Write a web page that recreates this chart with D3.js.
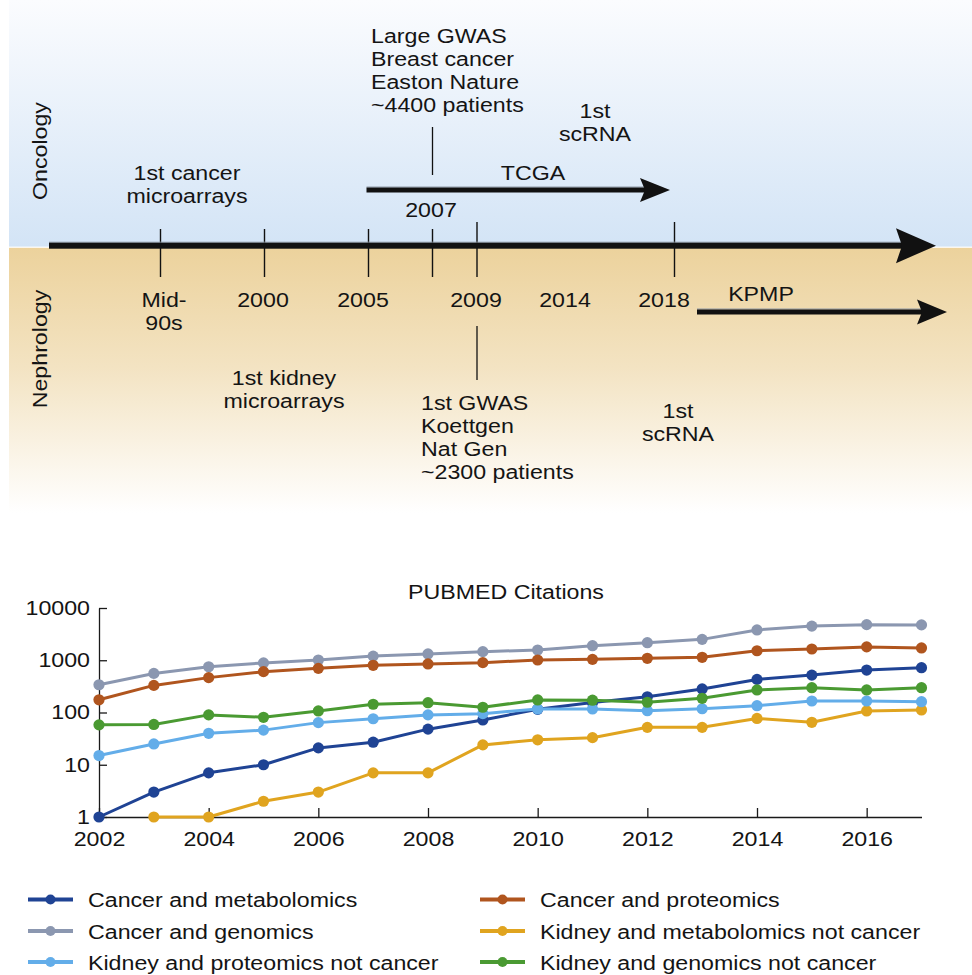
<!DOCTYPE html>
<html>
<head>
<meta charset="utf-8">
<script src="https://cdn.jsdelivr.net/npm/d3@7/dist/d3.min.js"></script>
<style>
  html, body { margin: 0; padding: 0; background: #fff; }
  svg { display: block; }
  text { font-family: "Liberation Sans", Arial, Helvetica, sans-serif; font-size: 20px; fill: #141414; }
</style>
</head>
<body>
<svg id="fig" width="972" height="975"></svg>
<script>
// ---------- Timeline content ----------
const milestoneYears = [1995, 2000, 2005, 2007, 2009, 2018];
const yearLabels = [
  { year: 1995, lines: ["Mid-", "90s"] },
  { year: 2000, lines: ["2000"] },
  { year: 2005, lines: ["2005"] },
  { year: 2009, lines: ["2009"] },
  { year: 2014, lines: ["2014"] },
  { year: 2018, lines: ["2018"] }
];
const oncologyNotes = [
  { key: "microarrays", lines: ["1st cancer", "microarrays"] },
  { key: "gwas", lines: ["Large GWAS", "Breast cancer", "Easton Nature", "~4400 patients"] },
  { key: "scrna", lines: ["1st", "scRNA"] },
  { key: "tcga", lines: ["TCGA"] },
  { key: "year2007", lines: ["2007"] }
];
const nephrologyNotes = [
  { key: "microarrays", lines: ["1st kidney", "microarrays"] },
  { key: "gwas", lines: ["1st GWAS", "Koettgen", "Nat Gen", "~2300 patients"] },
  { key: "scrna", lines: ["1st", "scRNA"] },
  { key: "kpmp", lines: ["KPMP"] }
];

// ---------- PubMed citation counts ----------
const years = [2002, 2003, 2004, 2005, 2006, 2007, 2008, 2009, 2010, 2011, 2012, 2013, 2014, 2015, 2016, 2017];
const cancerMetabolomics = [1, 3, 7, 10, 21, 27, 48, 72, 115, 155, 200, 282, 430, 520, 650, 720];
const cancerGenomics     = [340, 560, 750, 890, 1010, 1200, 1320, 1460, 1570, 1900, 2170, 2510, 3800, 4500, 4800, 4750];
const cancerProteomics   = [175, 330, 465, 605, 700, 800, 850, 900, 1010, 1040, 1090, 1140, 1520, 1640, 1800, 1720];
const kidneyMetabolomics = [null, 1, 1, 2, 3, 7, 7, 24, 30, 33, 52, 52, 77, 65, 107, 112];
const kidneyProteomics   = [15, 25, 40, 46, 64, 76, 90, 95, 117, 117, 108, 118, 135, 166, 166, 161];
const kidneyGenomics     = [58, 59, 90, 81, 107, 144, 154, 126, 174, 172, 157, 187, 270, 298, 270, 298];
const yTicks = [1, 10, 100, 1000, 10000];
const xTicks = [2002, 2004, 2006, 2008, 2010, 2012, 2014, 2016];

const series = [
  { name: "Cancer and metabolomics", values: cancerMetabolomics, color: "#1f4394", legend: [0, 0] },
  { name: "Cancer and genomics", values: cancerGenomics, color: "#8b97b0", legend: [0, 1] },
  { name: "Cancer and proteomics", values: cancerProteomics, color: "#b0551e", legend: [1, 0] },
  { name: "Kidney and metabolomics not cancer", values: kidneyMetabolomics, color: "#e0a41f", legend: [1, 1] },
  { name: "Kidney and proteomics not cancer", values: kidneyProteomics, color: "#63ade9", legend: [0, 2] },
  { name: "Kidney and genomics not cancer", values: kidneyGenomics, color: "#4a9a32", legend: [1, 2] }
];

// ---------- helpers ----------
const SX = 1.16;        // wide Helvetica-like setting
const LH = 23;          // line height of stacked labels
const svg = d3.select("#fig");

function label(g, x, y, lines, anchor = "start", rotate = 0) {
  const t = g.append("text")
    .attr("transform", `translate(${x},${y}) rotate(${rotate}) scale(${SX},1)`)
    .attr("text-anchor", anchor);
  lines.forEach((s, i) => t.append("tspan").attr("x", 0).attr("y", i * LH).text(s));
  return t;
}

function arrow(g, x0, x1, y, thick, headLen, headHalf, notch) {
  g.append("rect").attr("x", x0).attr("y", y - thick / 2 - 1).attr("width", x1 - headLen + notch - x0)
    .attr("height", 1).attr("fill", "#8e98a3");
  g.append("rect").attr("x", x0).attr("y", y - thick / 2).attr("width", x1 - headLen + notch + 1 - x0)
    .attr("height", thick).attr("fill", "#111");
  g.append("path")
    .attr("d", `M${x1},${y} L${x1 - headLen},${y - headHalf} L${x1 - headLen + notch},${y} L${x1 - headLen},${y + headHalf} Z`)
    .attr("fill", "#111");
}

// ---------- timeline background ----------
const defs = svg.append("defs");
const sky = defs.append("linearGradient").attr("id", "sky").attr("x1", 0).attr("y1", 0).attr("x2", 0).attr("y2", 1);
sky.append("stop").attr("offset", "0%").attr("stop-color", "#fbfcfe");
sky.append("stop").attr("offset", "100%").attr("stop-color", "#d3e4f6");
const sand = defs.append("linearGradient").attr("id", "sand").attr("x1", 0).attr("y1", 0).attr("x2", 0).attr("y2", 1);
sand.append("stop").attr("offset", "0%").attr("stop-color", "#ecd29c");
sand.append("stop").attr("offset", "45%").attr("stop-color", "#f3e3c2");
sand.append("stop").attr("offset", "100%").attr("stop-color", "#ffffff");

const tl = svg.append("g").attr("class", "timeline");
tl.append("rect").attr("x", 9).attr("y", 0).attr("width", 963).attr("height", 247).attr("fill", "url(#sky)");
tl.append("rect").attr("x", 9).attr("y", 247).attr("width", 963).attr("height", 266).attr("fill", "url(#sand)");
tl.append("rect").attr("x", 9).attr("y", 246.6).attr("width", 963).attr("height", 1.2).attr("fill", "#fff");

// schematic (non-uniform) timeline position
const tx = d3.scaleLinear()
  .domain([1995, 2000, 2005, 2007, 2009, 2014, 2018])
  .range([160.5, 264.5, 368.5, 432.5, 477, 566, 674.5]);

// milestone ticks
tl.selectAll("line.milestone").data(milestoneYears).join("line")
  .attr("class", "milestone")
  .attr("x1", d => tx(d)).attr("x2", d => tx(d))
  .attr("y1", d => (d >= 2009 ? 222 : 229)).attr("y2", 277)
  .attr("stroke", "#111").attr("stroke-width", 1.4);

// main time arrow
arrow(tl, 49, 936, 245.7, 6, 40, 17.5, 6);

// year labels under the axis
const yearNudge = { 1995: 3.5, 2000: -1.5, 2005: -5.5, 2009: -1, 2014: -1, 2018: -10.5 };
yearLabels.forEach(d => label(tl, tx(d.year) + yearNudge[d.year], 307, d.lines, "middle"));

// section titles
label(tl, 47, 151, ["Oncology"], "middle", -90);
label(tl, 47, 349, ["Nephrology"], "middle", -90);

// oncology annotations
const onc = Object.fromEntries(oncologyNotes.map(d => [d.key, d.lines]));
label(tl, 187, 180, onc.microarrays, "middle");
label(tl, 371, 43, onc.gwas, "start");
label(tl, 595, 118, onc.scrna, "middle");
label(tl, 533, 180, onc.tcga, "middle");
label(tl, 431, 217, onc.year2007, "middle");
tl.append("line").attr("x1", tx(2007)).attr("x2", tx(2007)).attr("y1", 127).attr("y2", 175)
  .attr("stroke", "#111").attr("stroke-width", 1.3);
arrow(tl, tx(2005) - 2, 670, 190, 5, 30, 12, 5);

// nephrology annotations
const nep = Object.fromEntries(nephrologyNotes.map(d => [d.key, d.lines]));
label(tl, 284, 385, nep.microarrays, "middle");
label(tl, 421, 410, nep.gwas, "start");
label(tl, 678, 418, nep.scrna, "middle");
label(tl, 761, 301, nep.kpmp, "middle");
tl.append("line").attr("x1", tx(2009)).attr("x2", tx(2009)).attr("y1", 326).attr("y2", 380)
  .attr("stroke", "#111").attr("stroke-width", 1.3);
arrow(tl, 697, 947, 312, 5, 30, 12.5, 5);

// ---------- PubMed chart ----------
const x = d3.scaleLinear().domain([2002, 2017]).range([99, 921.5]);
const y = d3.scaleLog().domain([1, 10000]).range([817, 608]);
const ch = svg.append("g").attr("class", "chart");

label(ch, 506, 599, ["PUBMED Citations"], "middle");

const xAxis = ch.append("g").attr("transform", `translate(0,${y(1)})`)
  .call(d3.axisBottom(x).tickValues(xTicks).tickFormat(d3.format("d"))
    .tickSize(-9).tickSizeOuter(0).tickPadding(15));
const yAxis = ch.append("g").attr("transform", `translate(${x(2002)},0)`)
  .call(d3.axisLeft(y).tickValues(yTicks).tickFormat(d3.format("d"))
    .tickSize(-8).tickSizeOuter(0).tickPadding(9));

[xAxis, yAxis].forEach(a => {
  a.attr("font-family", null).attr("font-size", null);
  a.selectAll("path.domain, .tick line").attr("stroke", "#1a1a1a").attr("stroke-width", 1.3);
  a.selectAll(".tick text").attr("fill", "#141414").style("font-size", "20px");
});
xAxis.selectAll(".tick text").attr("transform", `scale(${SX},1)`);
yAxis.selectAll(".tick text").attr("x", -9 / SX).attr("transform", `scale(${SX},1)`);

const line = d3.line()
  .defined(d => d.v != null)
  .x(d => x(d.year))
  .y(d => y(d.v));

series.forEach(s => {
  const pts = years.map((yr, i) => ({ year: yr, v: s.values[i] }));
  const g = ch.append("g").attr("class", "series");
  g.append("path").datum(pts).attr("d", line)
    .attr("fill", "none").attr("stroke", s.color).attr("stroke-width", 3)
    .attr("stroke-linejoin", "round");
  g.selectAll("circle").data(pts.filter(d => d.v != null)).join("circle")
    .attr("cx", d => x(d.year)).attr("cy", d => y(d.v)).attr("r", 5.6)
    .attr("fill", s.color);
});

// ---------- legend ----------
const lg = svg.append("g").attr("class", "legend");
const colX = [28, 480];
const rowY = [899.5, 931, 962];
series.forEach(s => {
  const [c, r] = s.legend;
  const g = lg.append("g").attr("transform", `translate(${colX[c]},${rowY[r]})`);
  g.append("line").attr("x1", 0).attr("x2", 45).attr("y1", 0).attr("y2", 0)
    .attr("stroke", s.color).attr("stroke-width", 4);
  g.append("circle").attr("cx", 22.5).attr("cy", 0).attr("r", 5).attr("fill", s.color);
  label(g, 60, 7.5, [s.name], "start");
});
</script>
</body>
</html>
